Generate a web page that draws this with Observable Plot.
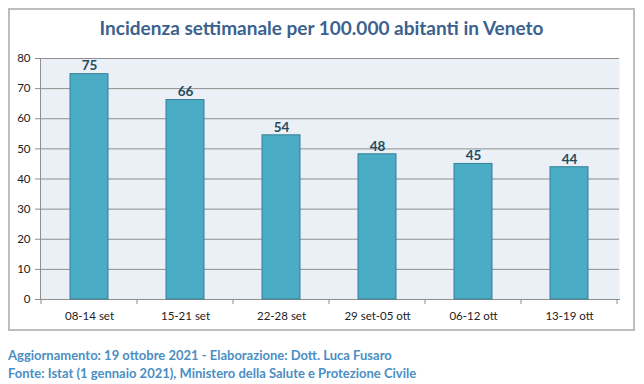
<!DOCTYPE html>
<html>
<head>
<meta charset="utf-8">
<script src="https://cdn.jsdelivr.net/npm/d3@7"></script>
<script src="https://cdn.jsdelivr.net/npm/@observablehq/plot@0.6"></script>
<style>
  html, body { margin: 0; padding: 0; background: #fff; }
  #page { position: relative; width: 644px; height: 384px; overflow: hidden; font-family: Lato, "Open Sans", sans-serif; }
  #box { position: absolute; left: 8px; top: 8px; border: 2px solid #bdbdbd; box-sizing: border-box; width: 627px; height: 323px; }
  #title { position: absolute; left: 8px; width: 627px; top: 16px; text-align: center; font-size: 19px; font-weight: bold; color: #3b618e; }
  #chart { position: absolute; left: 0; top: 0; }
  .foot { position: absolute; left: 8px; font-size: 13px; font-weight: bold; color: #4b8ec4; white-space: nowrap; }
</style>
</head>
<body>
<div id="page">
  <div id="box"></div>
  <div id="title">Incidenza settimanale per 100.000 abitanti in Veneto</div>
  <div id="chart"></div>
  <div class="foot" style="top:347px">Aggiornamento: 19 ottobre 2021 - Elaborazione: Dott. Luca Fusaro</div>
  <div class="foot" style="top:365px">Fonte: Istat (1 gennaio 2021), Ministero della Salute e Protezione Civile</div>
</div>
<script>
const weeks = ["08-14 set", "15-21 set", "22-28 set", "29 set-05 ott", "06-12 ott", "13-19 ott"];
const incidence = [74.8, 66.2, 54.5, 48.2, 45.0, 43.9];
const valueLabels = ["75", "66", "54", "48", "45", "44"];
const yTicks = [0, 10, 20, 30, 40, 50, 60, 70, 80];

const data = weeks.map((w, i) => ({week: w, value: incidence[i], label: valueLabels[i]}));

// category boundary ticks drawn from the band scale
function boundaryTicks(index, scales, values, dims) {
  const x = scales.scales.x;
  const step = x.step;
  const y0 = scales.y(0);
  const g = d3.create("svg:g");
  const gap = (step - x.bandwidth) / 2;
  const xs = weeks.map(w => scales.x(w) - gap);
  xs.push(scales.x(weeks[weeks.length - 1]) + x.bandwidth + gap);
  for (const px of xs) {
    g.append("line").attr("x1", px).attr("x2", px).attr("y1", y0).attr("y2", y0 + 5)
      .attr("stroke", "#8c8c8c").attr("stroke-width", 1);
  }
  return g.node();
}

const chart = Plot.plot({
  width: 644,
  height: 330,
  marginLeft: 40,
  marginRight: 25,
  marginTop: 58,
  marginBottom: 31,
  style: {fontFamily: "Lato, 'Open Sans', sans-serif", fontSize: "11px", color: "#222", background: "transparent"},
  x: {domain: weeks, paddingInner: 0.6, paddingOuter: 0.3, label: null},
  y: {domain: [0, 80], ticks: yTicks, label: null},
  marks: [
    Plot.frame({fill: "#eaf0f5", stroke: null}),
    Plot.gridY(yTicks, {stroke: "#8f8f8f", strokeOpacity: 1, strokeWidth: 1}),
    Plot.frame({anchor: "left", stroke: "#8f8f8f"}),
    Plot.frame({anchor: "bottom", stroke: "#8f8f8f"}),
    Plot.barY(data, {x: "week", y: "value", fill: "#4bacc6", stroke: "#357f96", strokeWidth: 1}),
    Plot.text(data, {x: "week", y: "value", text: "label", dy: -8, fontWeight: "bold", fontSize: 13.5, fill: "#1f4c60"}),
    Plot.axisY({ticks: yTicks, tickSize: 5, tickPadding: 5, stroke: "#8f8f8f", fill: "#222", fontSize: 11.5, label: null}),
    Plot.axisX({tickSize: 0, tickPadding: 12, fill: "#222", fontSize: 11.5, label: null}),
    boundaryTicks
  ]
});
document.getElementById("chart").appendChild(chart);
</script>
</body>
</html>
